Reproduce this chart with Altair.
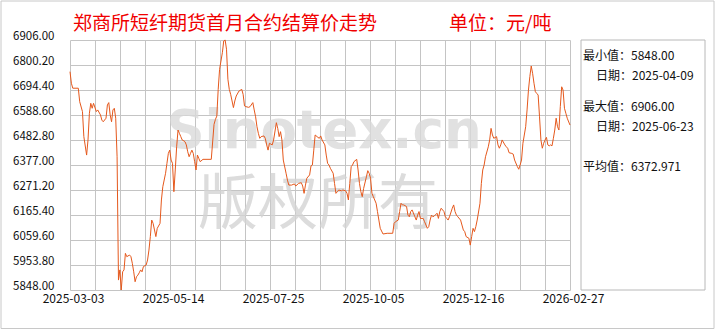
import altair as alt
import pandas as pd

# ---------------- data ----------------
dates = [
    "2025-03-03", "2025-03-04", "2025-03-05", "2025-03-09", "2025-03-10", "2025-03-12", "2025-03-13", "2025-03-15", "2025-03-16", "2025-03-17",
    "2025-03-18", "2025-03-19", "2025-03-20", "2025-03-22", "2025-03-23", "2025-03-25", "2025-03-26", "2025-03-27", "2025-03-29", "2025-03-30",
    "2025-03-31", "2025-04-01", "2025-04-02", "2025-04-03", "2025-04-04", "2025-04-05", "2025-04-06", "2025-04-07", "2025-04-08", "2025-04-09",
    "2025-04-10", "2025-04-11", "2025-04-12", "2025-04-13", "2025-04-15", "2025-04-16", "2025-04-17", "2025-04-18", "2025-04-19", "2025-04-20",
    "2025-04-21", "2025-04-22", "2025-04-23", "2025-04-24", "2025-04-25", "2025-04-27", "2025-04-28", "2025-04-29", "2025-04-30", "2025-05-01",
    "2025-05-02", "2025-05-03", "2025-05-04", "2025-05-05", "2025-05-07", "2025-05-08", "2025-05-09", "2025-05-11", "2025-05-12", "2025-05-13",
    "2025-05-14", "2025-05-15", "2025-05-16", "2025-05-17", "2025-05-18", "2025-05-19", "2025-05-20", "2025-05-21", "2025-05-22", "2025-05-23",
    "2025-05-25", "2025-05-26", "2025-05-27", "2025-05-28", "2025-05-29", "2025-05-30", "2025-05-31", "2025-06-01", "2025-06-02", "2025-06-03",
    "2025-06-04", "2025-06-05", "2025-06-07", "2025-06-13", "2025-06-15", "2025-06-16", "2025-06-17", "2025-06-18", "2025-06-19", "2025-06-21",
    "2025-06-22", "2025-06-23", "2025-06-24", "2025-06-25", "2025-06-26", "2025-06-27", "2025-06-28", "2025-06-29", "2025-06-30", "2025-07-01",
    "2025-07-03", "2025-07-05", "2025-07-06", "2025-07-07", "2025-07-08", "2025-07-10", "2025-07-11", "2025-07-13", "2025-07-14", "2025-07-15",
    "2025-07-16", "2025-07-17", "2025-07-18", "2025-07-19", "2025-07-21", "2025-07-22", "2025-07-23", "2025-07-24", "2025-07-25", "2025-07-27",
    "2025-07-28", "2025-07-30", "2025-07-31", "2025-08-01", "2025-08-02", "2025-08-03", "2025-08-04", "2025-08-06", "2025-08-07", "2025-08-08",
    "2025-08-10", "2025-08-12", "2025-08-13", "2025-08-15", "2025-08-17", "2025-08-18", "2025-08-19", "2025-08-20", "2025-08-21", "2025-08-23",
    "2025-08-24", "2025-08-25", "2025-08-26", "2025-08-27", "2025-08-29", "2025-08-30", "2025-08-31", "2025-09-01", "2025-09-03", "2025-09-04",
    "2025-09-05", "2025-09-06", "2025-09-07", "2025-09-09", "2025-09-10", "2025-09-11", "2025-09-12", "2025-09-13", "2025-09-15", "2025-09-16",
    "2025-09-18", "2025-09-19", "2025-09-20", "2025-09-21", "2025-09-22", "2025-09-23", "2025-09-24", "2025-09-26", "2025-09-27", "2025-09-28",
    "2025-09-29", "2025-09-30", "2025-10-01", "2025-10-03", "2025-10-04", "2025-10-05", "2025-10-06", "2025-10-07", "2025-10-08", "2025-10-10",
    "2025-10-11", "2025-10-12", "2025-10-13", "2025-10-15", "2025-10-18", "2025-10-22", "2025-10-23", "2025-10-24", "2025-10-26", "2025-10-27",
    "2025-10-28", "2025-10-29", "2025-10-30", "2025-11-01", "2025-11-02", "2025-11-03", "2025-11-04", "2025-11-05", "2025-11-07", "2025-11-08",
    "2025-11-09", "2025-11-10", "2025-11-11", "2025-11-13", "2025-11-14", "2025-11-16", "2025-11-17", "2025-11-18", "2025-11-19", "2025-11-20",
    "2025-11-21", "2025-11-23", "2025-11-24", "2025-11-25", "2025-11-26", "2025-11-28", "2025-11-29", "2025-11-30", "2025-12-01", "2025-12-02",
    "2025-12-04", "2025-12-05", "2025-12-06", "2025-12-07", "2025-12-08", "2025-12-10", "2025-12-11", "2025-12-12", "2025-12-13", "2025-12-14",
    "2025-12-16", "2025-12-17", "2025-12-18", "2025-12-19", "2025-12-20", "2025-12-21", "2025-12-22", "2025-12-24", "2025-12-25", "2025-12-26",
    "2025-12-27", "2025-12-28", "2025-12-30", "2025-12-31", "2026-01-01", "2026-01-02", "2026-01-03", "2026-01-05", "2026-01-06", "2026-01-07",
    "2026-01-08", "2026-01-09", "2026-01-11", "2026-01-12", "2026-01-13", "2026-01-14", "2026-01-16", "2026-01-17", "2026-01-18", "2026-01-20",
    "2026-01-21", "2026-01-22", "2026-01-23", "2026-01-24", "2026-01-26", "2026-01-27", "2026-01-28", "2026-01-29", "2026-01-30", "2026-01-31",
    "2026-02-01", "2026-02-02", "2026-02-03", "2026-02-04", "2026-02-05", "2026-02-06", "2026-02-07", "2026-02-08", "2026-02-09", "2026-02-10",
    "2026-02-11", "2026-02-12", "2026-02-13", "2026-02-14", "2026-02-15", "2026-02-16", "2026-02-17", "2026-02-18", "2026-02-19", "2026-02-20",
    "2026-02-21", "2026-02-22", "2026-02-23", "2026-02-24", "2026-02-25", "2026-02-27",
]

prices = [
    6772, 6723, 6702, 6702, 6645, 6603, 6497, 6419, 6483, 6596,
    6638, 6617, 6638, 6603, 6610, 6589, 6567, 6560, 6575, 6631,
    6641, 6589, 6560, 6610, 6617, 6575, 6412, 5890, 5933, 5848,
    5925, 5933, 6003, 5989, 5996, 5989, 5961, 5925, 5883, 5904,
    5911, 5921, 5933, 5925, 5947, 5954, 5975, 6017, 6074, 6144,
    6130, 6102, 6074, 6109, 6130, 6229, 6285, 6342, 6384, 6426,
    6440, 6398, 6384, 6264, 6356, 6454, 6525, 6511, 6497, 6483,
    6476, 6462, 6433, 6412, 6426, 6440, 6426, 6391, 6356, 6419,
    6405, 6391, 6401, 6401, 6549, 6570, 6584, 6697, 6782, 6852,
    6902, 6906, 6867, 6740, 6697, 6676, 6648, 6620, 6648, 6669,
    6690, 6697, 6676, 6627, 6624, 6621, 6624, 6641, 6610, 6581,
    6539, 6511, 6490, 6497, 6500, 6490, 6462, 6440, 6469, 6462,
    6483, 6556, 6532, 6497, 6518, 6483, 6398, 6342, 6313, 6292,
    6292, 6297, 6288, 6299, 6302, 6288, 6257, 6292, 6321, 6335,
    6373, 6377, 6440, 6504, 6494, 6490, 6500, 6483, 6462, 6419,
    6384, 6377, 6363, 6342, 6299, 6257, 6264, 6271, 6268, 6271,
    6268, 6257, 6229, 6299, 6370, 6377, 6391, 6401, 6356, 6299,
    6264, 6243, 6278, 6327, 6353, 6342, 6321, 6257, 6243, 6215,
    6180, 6144, 6109, 6085, 6088, 6088, 6130, 6137, 6144, 6180,
    6215, 6208, 6208, 6201, 6165, 6158, 6180, 6187, 6158, 6144,
    6165, 6180, 6151, 6151, 6137, 6109, 6116, 6144, 6165, 6158,
    6161, 6173, 6151, 6180, 6194, 6180, 6158, 6151, 6144, 6158,
    6194, 6208, 6180, 6165, 6158, 6144, 6123, 6102, 6095, 6074,
    6067, 6038, 6074, 6109, 6095, 6116, 6144, 6215, 6299, 6356,
    6377, 6412, 6454, 6483, 6532, 6504, 6490, 6497, 6462, 6448,
    6462, 6483, 6462, 6454, 6448, 6429, 6426, 6423, 6398, 6370,
    6359, 6377, 6398, 6469, 6539, 6610, 6694, 6751, 6796, 6765,
    6723, 6687, 6680, 6673, 6581, 6483, 6448, 6469, 6483, 6494,
    6462, 6458, 6462, 6458, 6490, 6525, 6575, 6539, 6525, 6624,
    6708, 6694, 6617, 6596, 6575, 6546,
]
assert len(dates) == len(prices)

title_text = "郑商所短纤期货首月合约结算价走势"
unit_text = "单位：元/吨"
stat_lines = ["最小值：5848.00", "日期：2025-04-09", "最大值：6906.00", "日期：2025-06-23", "平均值：6372.971"]
watermark_en = "Sinotex.cn"
watermark_cn = "版权所有"

y_min, y_max = 5848.0, 6906.0
date_start, date_end = "2025-03-03", "2026-02-27"

# ---------------- layout helpers ----------------
W, H = 500, 250
FONT = "Noto Sans CJK SC"
GRID = "#c4c4c4"

start_ms = int(pd.Timestamp(date_start, tz="UTC").timestamp() * 1000)
end_ms = int(pd.Timestamp(date_end, tz="UTC").timestamp() * 1000)
x_step = (end_ms - start_ms) / 20
x_grid = [start_ms + k * x_step for k in range(21)]
y_grid = [round(y_min + k * (y_max - y_min) / 10, 2) for k in range(11)]

df = pd.DataFrame({"date": dates, "price": prices})

x_axis = alt.Axis(
    values=x_grid, grid=True, gridColor=GRID, gridWidth=1, domain=False, ticks=False, tickSize=0,
    labelExpr=f"(round((datum.value - {start_ms}) / {x_step}) % 4 == 0) ? utcFormat(datum.value, '%Y-%m-%d') : ''",
    labelFont=FONT, labelFontSize=12, labelColor="#111111", labelPadding=3, labelFlush=False,
    labelOverlap=False, labelOffset=3, title=None,
)
y_axis = alt.Axis(
    values=y_grid, grid=True, gridColor=GRID, gridWidth=1, domain=False, ticks=False, tickSize=0,
    labelExpr="format(datum.value, '.2f')", labelFont=FONT, labelFontSize=11.5, labelColor="#111111",
    labelPadding=16, labelOffset=-4, labelOverlap=False, title=None,
)

line = alt.Chart(df).mark_line(color="#E5581C", strokeWidth=1.0).encode(
    x=alt.X("date:T", scale=alt.Scale(type="utc", domain=[start_ms, end_ms]), axis=x_axis),
    y=alt.Y("price:Q", scale=alt.Scale(domain=[y_min, y_max], zero=False, nice=False), axis=y_axis),
)


def text_layer(txt, x, y, size, color, align="left", baseline="middle", weight="normal", font=FONT, opacity=1.0):
    return alt.Chart(pd.DataFrame({"t": [txt]})).mark_text(
        align=align, baseline=baseline, fontSize=size, font=font, color=color,
        fontWeight=weight, opacity=opacity,
    ).encode(text="t:N", x=alt.value(x), y=alt.value(y))


def box_layer(x1, x2, y1, y2, color):
    return alt.Chart(pd.DataFrame({"k": [0]})).mark_rect(
        fill="white", fillOpacity=0, stroke=color, strokeWidth=1
    ).encode(x=alt.value(x1), x2=alt.value(x2), y=alt.value(y1), y2=alt.value(y2))


wm1 = text_layer(watermark_en, 254, 108, 53, "#dadada", align="center", baseline="alphabetic",
                 weight="bold", font="DejaVu Sans", opacity=0.8)
wm2 = text_layer(watermark_cn, 248, 166, 60, "#d4d4d4", align="center", opacity=0.8)

outer = box_layer(-69, 644, -39, 288.5, "#c8c8c8")
panel = box_layer(511, 635, 0, 250, "#b8b8b8")

title = text_layer(title_text, 3, -16, 19, "#f00000")
unit = text_layer(unit_text, 379, -16, 19, "#f00000")

stat_pos = [(513, 15.5), (526, 35.5), (513, 66.5), (526, 86.5), (513, 126.5)]
stats = [text_layer(s, px, py, 12, "#111111") for s, (px, py) in zip(stat_lines, stat_pos)]

chart = alt.layer(outer, panel, wm1, wm2, line, title, unit, *stats).properties(
    width=W, height=H,
    autosize=alt.AutoSizeParams(type="none"),
    padding={"left": 70, "top": 40, "right": 150, "bottom": 40},
    background="white",
).configure_view(stroke=None)

chart.save("out.html", embed_options={"renderer": "svg", "actions": False})
